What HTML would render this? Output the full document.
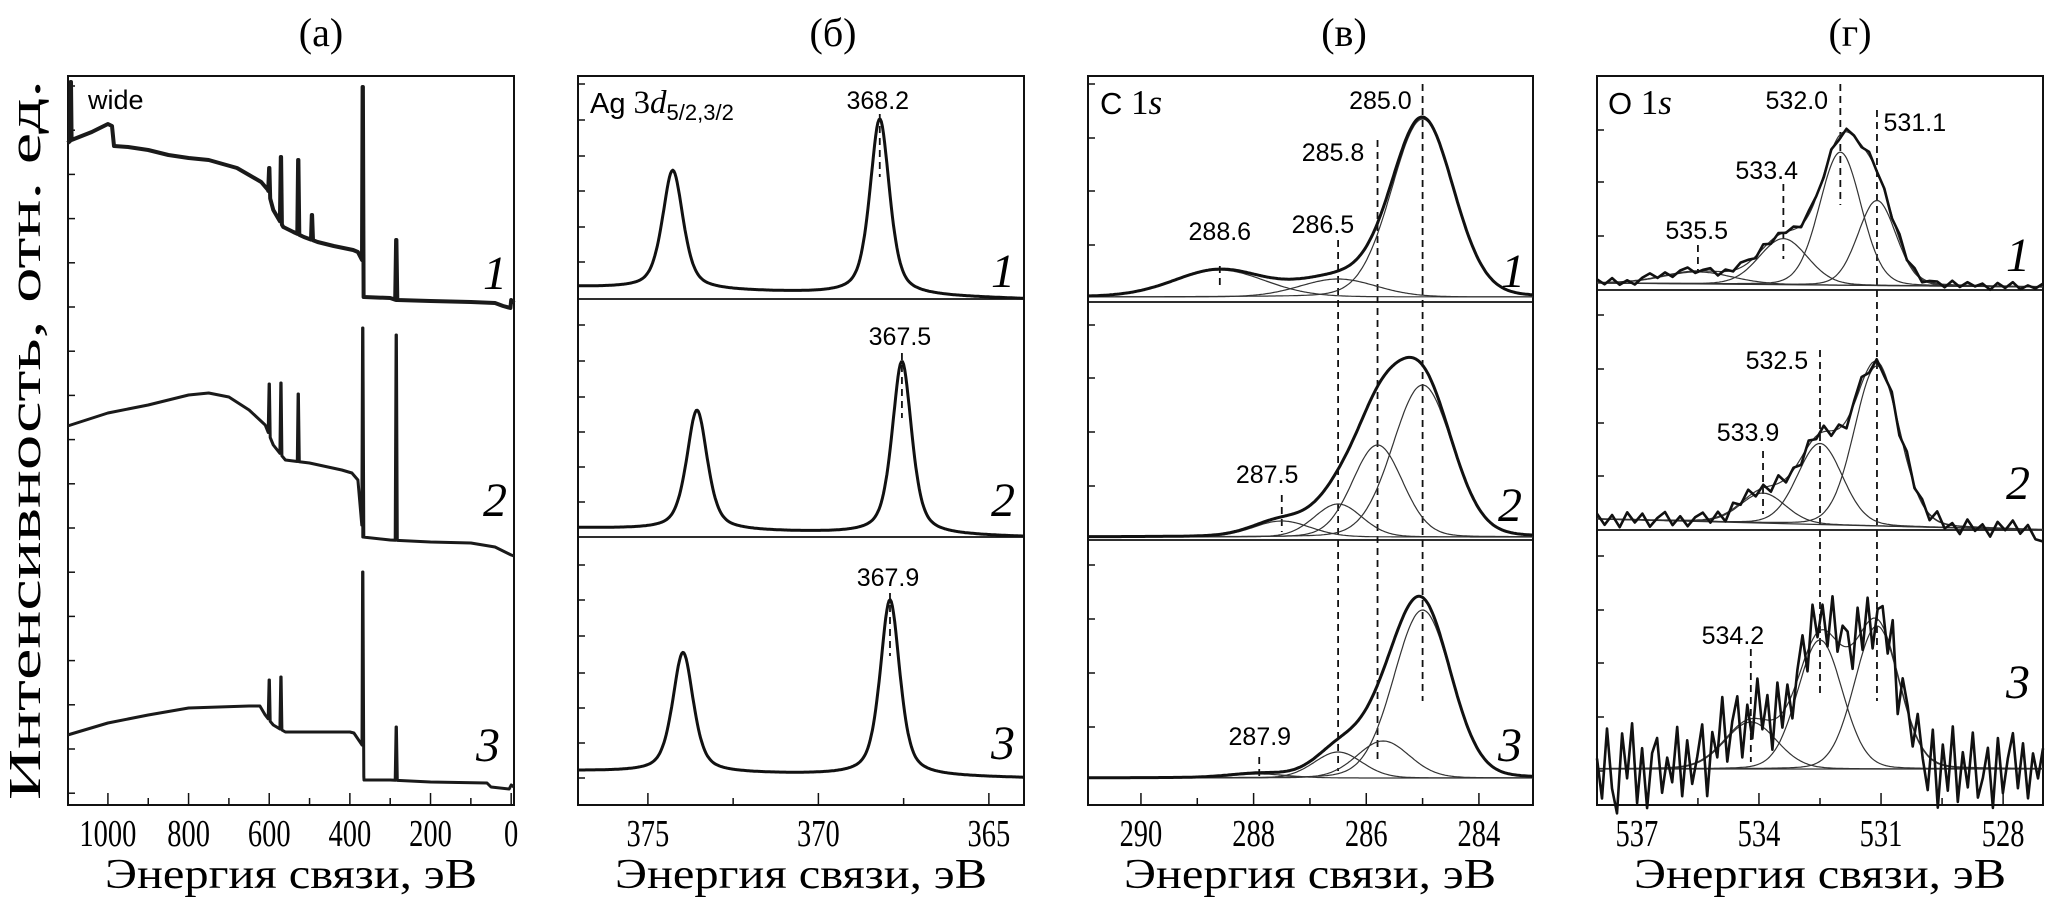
<!DOCTYPE html>
<html><head><meta charset="utf-8">
<style>
html,body{margin:0;padding:0;background:#fff;}
svg{display:block;}
.serif{font-family:"Liberation Serif","DejaVu Serif",serif;}
.sans{font-family:"Liberation Sans","DejaVu Sans",sans-serif;}
</style></head>
<body>
<svg id="chart" width="2067" height="909" viewBox="0 0 2067 909" xmlns="http://www.w3.org/2000/svg">
<rect x="0" y="0" width="2067" height="909" fill="#fff"/>
<text class="serif" x="321" y="46" font-size="40" text-anchor="middle">(a)</text>
<text class="serif" x="833" y="46" font-size="40" text-anchor="middle">(б)</text>
<text class="serif" x="1344" y="46" font-size="40" text-anchor="middle">(в)</text>
<text class="serif" x="1850" y="46" font-size="40" text-anchor="middle">(г)</text>
<text class="serif" transform="translate(40,440) rotate(-90)" font-size="46" text-anchor="middle" textLength="720" lengthAdjust="spacingAndGlyphs">Интенсивность, отн. ед.</text>
<text class="serif" x="291" y="888" font-size="42" text-anchor="middle" textLength="372" lengthAdjust="spacingAndGlyphs">Энергия связи, эВ</text>
<text class="serif" x="801" y="888" font-size="42" text-anchor="middle" textLength="372" lengthAdjust="spacingAndGlyphs">Энергия связи, эВ</text>
<text class="serif" x="1310" y="888" font-size="42" text-anchor="middle" textLength="372" lengthAdjust="spacingAndGlyphs">Энергия связи, эВ</text>
<text class="serif" x="1820" y="888" font-size="42" text-anchor="middle" textLength="372" lengthAdjust="spacingAndGlyphs">Энергия связи, эВ</text>
<text class="sans" x="88" y="109" font-size="27">wide</text>
<text x="590" y="113" font-size="29"><tspan class="sans">Ag </tspan><tspan class="serif" font-size="33">3</tspan><tspan class="serif" font-style="italic" font-size="33">d</tspan><tspan class="sans" font-size="22" dy="7">5/2,3/2</tspan></text>
<text x="1100" y="114" font-size="31"><tspan class="sans">C </tspan><tspan class="serif" font-size="35">1</tspan><tspan class="serif" font-style="italic" font-size="35">s</tspan></text>
<text x="1608" y="114" font-size="31"><tspan class="sans">O </tspan><tspan class="serif" font-size="35">1</tspan><tspan class="serif" font-style="italic" font-size="35">s</tspan></text>
<g id="plots"></g>
</svg>
<script>
// ---------- Panel (a): survey spectra ----------
const surveyE1 = [1100,1090,1040,1000,990,985,950,900,850,800,750,715,680,650,620,603,590,565,540,514,480,440,392,380,370,366,300,285,200,100,40,20,2,0,-7];
const surveyH1 = [662,665,673,681,679,659,658,655,650,647,645,641,637,630,623,615,595,578,573,568,563,559,555,553,545,508,507,505,504,503,502,499,497,505,502];
const spikesE1 = [1092,600,571,528,494,368,285];
const spikesH1 = [723,637,648,645,590,718,565];
const surveyE2 = [1100,1000,900,800,750,700,650,610,590,560,500,420,395,380,368,300,200,100,40,0,-7];
const surveyH2 = [379,392,400,410,412,408,395,380,360,345,342,335,332,325,268,265,263,262,258,250,249];
const spikesE2 = [600,571,528,368,285];
const spikesH2 = [421,422,411,477,470];
const surveyE3 = [1100,1000,900,800,725,650,623,610,590,560,400,390,370,365,300,200,60,50,5,0,-7];
const surveyH3 = [70,82,90,97,98,99,99,90,80,73,73,72,60,25,25,23,22,18,16,20,18];
const spikesE3 = [600,571,368,285];
const spikesH3 = [125,128,233,78];
const ticksA = [1000,800,600,400,200,0];

// ---------- Panel (б): Ag 3d ----------
const agBgLeft = [518,277,34];
const agBgRight = [506,268,27];
const agPeak52 = [368.2,367.55,367.9];
const agPeak32 = [374.27,373.56,373.97];
const agH52 = [176,173,176];
const agH32 = [119,120,120];
const ticksB = [375,370,365];
const agLabels = ["368.2","367.5","367.9"];
const agLabelH = [705,469,228];
const agDashTop = [691,452,212];
const agDashBot = [628,387,149];

// ---------- Panel (в): C 1s ----------
const cBg = [508,268,27];
const cCenters1 = [285.0,286.5,288.6];
const cHeights1 = [178,18,27];
const cWidths1 = [1.3,1.6,1.9];
const cCenters2 = [285.0,285.8,286.5,287.5];
const cHeights2 = [152,92,33,16];
const cWidths2 = [1.25,1.05,1.0,1.2];
const cCenters3 = [285.0,285.7,286.5,287.9];
const cHeights3 = [168,37,26,4];
const cWidths3 = [1.2,1.1,1.0,1.2];
const ticksC = [290,288,286,284];
const cLabelText = ["285.0","285.8","288.6","286.5","287.5","287.9"];
const cLabelE = [285.75,286.59,288.6,286.77,287.76,287.89];
const cLabelH = [705,653,574,581,331,69];
const cDashE = [285.0,285.8,286.5,288.6,287.5,287.9];
const cDashTop = [721,665,565,539,310,48];
const cDashBot = [104,46,34,520,273,27];

// ---------- Panel (г): O 1s ----------
const oBgLeft = [522,286,36];
const oBgRight = [518,275,36];
const oCenters1 = [535.5,533.4,532.0,531.1];
const oHeights1 = [12,46,133,85];
const oWidths1 = [2.0,1.4,1.2,1.1];
const oCenters2 = [533.9,532.5,531.1];
const oHeights2 = [30,81,160];
const oWidths2 = [1.3,1.3,1.3];
const oCenters3 = [534.2,532.5,531.1];
const oHeights3 = [47,129,143];
const oWidths3 = [1.5,1.3,1.3];
const oNoise1 = [3,-2,4,-3,1,-4,2,5,-1,3,-3,2,4,-2,1,3,-4,2,-1,5,3,-2,4,-3,2,-1,3,-2,4,1,-3,2,-4,3,1,-2,4,-1,2,-3,5,-2,3,-4,1,2,-3,4,-2,3,-1,2,-4,3,-2,4,-3,1,-2,3];
const oNoise2 = [5,-6,4,-8,7,-3,6,-7,2,8,-5,4,-6,3,7,-4,5,-8,6,-2,7,-5,3,-6,8,-4,2,-7,5,-3,6,-5,4,-8,3,7,-6,2,-4,5,-7,8,-3,4,-6,9,-5,2,-8,7,-4,3,-9,6,-2,8,-5,4,-10,-12];
const oNoise3 = [10,-30,40,-20,-45,35,-10,45,-35,20,-40,15,30,-25,10,-15,40,-30,25,-20,5,35,-40,20,-10,45,-25,10,30,-35,15,-20,40,-10,25,-30,35,-15,20,-25,10,30,-20,35,-5,25,-15,40,-10,20,15,-25,30,-20,25,-30,10,20,-15,35,-40,15,5,-20,25,-10,-35,30,-45,20,-25,40,-35,15,-20,35,-30,-10,20,-40,30,-25,10,35,-20,25,-30,15,-10,20];
const ticksD = [537,534,531,528];
const oLabelText = ["532.0","531.1","533.4","535.5","532.5","533.9","534.2"];
const oLabelE = [533.07,530.17,533.81,535.53,533.56,534.27,534.64];
const oLabelH = [705,683,635,575,445,373,170];
const oDashE = [532.0,531.1,533.4,535.5,532.5,533.9,534.2];
const oDashTop = [721,695,621,560,455,354,156];
const oDashBot = [600,104,546,532,111,291,43];

// ---------- helpers ----------
const NS = "http://www.w3.org/2000/svg";
const root = document.getElementById('plots');
function mk(tag, name, attrs, parent) {
  const el = document.createElementNS(NS, tag);
  
  
  for (const k in attrs) el.setAttribute(k, attrs[k]);
  (parent || root).appendChild(el);
  return el;
}
function lin(d0, d1, r0, r1) { return v => r0 + (v - d0) * (r1 - r0) / (d1 - d0); }
const BOTTOM = 805, TOP = 76;
const yS = lin(0, 729, BOTTOM, TOP);
function pv(x, c, h, w, eta) {
  const t = (x - c) / w;
  return h * (eta / (1 + 4 * t * t) + (1 - eta) * Math.exp(-4 * Math.LN2 * t * t));
}
function pathFrom(pts) { return pts.map((p, i) => (i ? 'L' : 'M') + p[0].toFixed(1) + ',' + p[1].toFixed(1)).join(''); }
function frame(name, x0, x1) {
  mk('rect', name + '-frame', {x: x0, y: TOP, width: x1 - x0, height: BOTTOM - TOP, fill: 'none', stroke: '#111', 'stroke-width': 2});
}
function xTicks(name, xs, d0, d1, majors, minorStep, labelSize) {
  const lo = Math.min(d0, d1), hi = Math.max(d0, d1);
  const start = Math.ceil(lo / minorStep) * minorStep;
  for (let v = start; v <= hi + 1e-9; v += minorStep) {
    const isMajor = majors.some(m => Math.abs(m - v) < 1e-6);
    const x = xs(v);
    mk('line', name + '-x-tick', {x1: x, x2: x, y1: BOTTOM, y2: BOTTOM - (isMajor ? 12 : 7), stroke: '#111', 'stroke-width': 1.5});
  }
  majors.forEach(m => {
    const t = mk('text', name + '-x-tick-label', {x: xs(m), y: 846, 'font-size': labelSize, 'text-anchor': 'middle', class: 'serif', transform: 'translate(' + xs(m) + ',0) scale(0.75,1) translate(' + (-xs(m)) + ',0)'});
    t.textContent = String(m);
  });
}
function yTicks(name, x0, ys) {
  ys.forEach(y => mk('line', name + '-y-tick', {x1: x0, x2: x0 + 7, y1: y, y2: y, stroke: '#111', 'stroke-width': 1.5}));
}
function sep(name, x0, x1, y) { mk('line', name + '-subplot-axis', {x1: x0, x2: x1, y1: y, y2: y, stroke: '#111', 'stroke-width': 1.8}); }
function curve(name, pts, w, col) { mk('path', name, {d: pathFrom(pts), fill: 'none', stroke: col || '#111', 'stroke-width': w, 'stroke-linejoin': 'round'}); }
function seriesLabel(name, x, y, txt) {
  const t = mk('text', name, {x: x, y: y + 16, 'font-size': 48, 'font-style': 'italic', 'text-anchor': 'middle', class: 'serif'});
  t.textContent = txt;
}
function peakLabel(name, x, h, txt) {
  const t = mk('text', name, {x: x, y: yS(h) + 9, 'font-size': 25, 'text-anchor': 'middle', class: 'sans'});
  t.textContent = txt;
}
function dash(name, x, hTop, hBot) {
  mk('line', name, {x1: x, x2: x, y1: yS(hTop), y2: yS(hBot), stroke: '#111', 'stroke-width': 1.8, 'stroke-dasharray': '7,5'});
}

// ---------- Panel (a) ----------
(function () {
  const xs = lin(1099, -7, 68, 514);
  frame('panel-a', 68, 514);
  const ty = []; for (let k = 0; k < 17; k++) ty.push(86 + 44.2 * k);
  yTicks('panel-a', 68, ty);
  xTicks('panel-a', xs, 1099, -7, ticksA, 100, 38);
  const sets = [[surveyE1, surveyH1, spikesE1, spikesH1], [surveyE2, surveyH2, spikesE2, spikesH2], [surveyE3, surveyH3, spikesE3, spikesH3]];
  sets.forEach((s, i) => {
    const E = s[0], H = s[1];
    const bgAt = e => { for (let j = 0; j < E.length - 1; j++) { if (e <= E[j] && e >= E[j + 1]) { const f = (E[j] - e) / (E[j] - E[j + 1]); return H[j] + f * (H[j + 1] - H[j]); } } return H[H.length - 1]; };
    let pts = E.map((e, j) => [e, H[j]]);
    s[2].forEach((e, j) => { pts.push([e + 2.5, bgAt(e + 2.5)]); pts.push([e + 0.4, s[3][j]]); pts.push([e - 0.4, s[3][j]]); pts.push([e - 2.5, bgAt(e - 2.5)]); });
    pts.sort((a, b) => b[0] - a[0]);
    curve('survey-spectrum-' + (i + 1), pts.map(p => [xs(p[0]), yS(p[1])]), i === 0 ? 4 : 3, '#1a1a1a');
  });
  seriesLabel('series-label-a-1', 495, 273, '1');
  seriesLabel('series-label-a-2', 495, 500, '2');
  seriesLabel('series-label-a-3', 488, 745, '3');
})();

// ---------- Panel (б) ----------
(function () {
  const d0 = 377.05, d1 = 363.97;
  const xs = lin(d0, d1, 578, 1024);
  frame('panel-b', 578, 1024);
  const ty = [84,120,156,191,227,262,325,361,397,432,467,502,565,600,636,673,708,743,778];
  yTicks('panel-b', 578, ty);
  sep('panel-b', 578, 1024, 299);
  sep('panel-b', 578, 1024, 537);
  xTicks('panel-b', xs, d0, d1, ticksB, 2.5, 38);
  for (let i = 0; i < 3; i++) {
    const pts = [];
    for (let k = 0; k <= 400; k++) {
      const e = d0 + (d1 - d0) * k / 400;
      const bg = agBgLeft[i] + (agBgRight[i] - agBgLeft[i]) * k / 400;
      const v = bg + pv(e, agPeak52[i], agH52[i], 0.68, 0.55) + pv(e, agPeak32[i], agH32[i], 0.72, 0.55);
      pts.push([xs(e), yS(v)]);
    }
    curve('ag3d-spectrum-' + (i + 1), pts, 3);
    dash('ag-peak-marker-' + (i + 1), xs(agPeak52[i]), agDashTop[i], agDashBot[i]);
    peakLabel('ag-peak-label-' + (i + 1), xs(agPeak52[i]) - 2, agLabelH[i], agLabels[i]);
  }
  seriesLabel('series-label-b-1', 1003, 271, '1');
  seriesLabel('series-label-b-2', 1003, 500, '2');
  seriesLabel('series-label-b-3', 1003, 743, '3');
})();

// ---------- Panel (в) ----------
(function () {
  const d0 = 290.94, d1 = 283.04;
  const xs = lin(d0, d1, 1088, 1533);
  frame('panel-v', 1088, 1533);
  yTicks('panel-v', 1088, [84,138,191,245,325,378,432,486,565,619,673,727]);
  sep('panel-v', 1088, 1533, 302);
  sep('panel-v', 1088, 1533, 540);
  xTicks('panel-v', xs, d0, d1, ticksC, 1, 38);
  const comps = [[cCenters1, cHeights1, cWidths1], [cCenters2, cHeights2, cWidths2], [cCenters3, cHeights3, cWidths3]];
  cDashE.forEach((e, j) => dash('c1s-marker-' + j, xs(e), cDashTop[j], cDashBot[j]));
  comps.forEach((c, i) => {
    const N = 300;
    c[0].forEach((cen, j) => {
      const pts = [];
      for (let k = 0; k <= N; k++) { const e = d0 + (d1 - d0) * k / N; pts.push([xs(e), yS(cBg[i] + pv(e, cen, c[1][j], c[2][j], 0.1))]); }
      curve('c1s-component-' + (i + 1) + '-' + j, pts, 1.2, '#333');
    });
    const tot = [];
    for (let k = 0; k <= N; k++) {
      const e = d0 + (d1 - d0) * k / N;
      let v = cBg[i];
      c[0].forEach((cen, j) => { v += pv(e, cen, c[1][j], c[2][j], 0.1); });
      tot.push([xs(e), yS(v)]);
    }
    curve('c1s-spectrum-' + (i + 1), tot, 3);
  });
  cLabelText.forEach((t, j) => peakLabel('c1s-peak-label-' + j, xs(cLabelE[j]), cLabelH[j], t));
  seriesLabel('series-label-v-1', 1513, 271, '1');
  seriesLabel('series-label-v-2', 1510, 505, '2');
  seriesLabel('series-label-v-3', 1510, 745, '3');
})();

// ---------- Panel (г) ----------
(function () {
  const d0 = 537.98, d1 = 527.02;
  const xs = lin(d0, d1, 1597, 2043);
  frame('panel-g', 1597, 2043);
  yTicks('panel-g', 1597, [130,182,236,315,369,423,476,556,610,663,717,771]);
  sep('panel-g', 1597, 2043, 290);
  sep('panel-g', 1597, 2043, 530);
  xTicks('panel-g', xs, d0, d1, ticksD, 1.5, 38);
  const comps = [[oCenters1, oHeights1, oWidths1, oNoise1], [oCenters2, oHeights2, oWidths2, oNoise2], [oCenters3, oHeights3, oWidths3, oNoise3]];
  oDashE.forEach((e, j) => dash('o1s-marker-' + j, xs(e), oDashTop[j], oDashBot[j]));
  comps.forEach((c, i) => {
    const N = 300;
    const bgAt = f => oBgLeft[i] + (oBgRight[i] - oBgLeft[i]) * f;
    mk('line', 'o1s-baseline-' + (i + 1), {x1: 1597, x2: 2043, y1: yS(bgAt(0)), y2: yS(bgAt(1)), stroke: '#333', 'stroke-width': 1.2});
    c[0].forEach((cen, j) => {
      const pts = [];
      for (let k = 0; k <= N; k++) { const e = d0 + (d1 - d0) * k / N; pts.push([xs(e), yS(bgAt(k / N) + pv(e, cen, c[1][j], c[2][j], 0.1))]); }
      curve('o1s-component-' + (i + 1) + '-' + j, pts, 1.2, '#333');
    });
    const env = [];
    for (let k = 0; k <= N; k++) {
      const e = d0 + (d1 - d0) * k / N;
      let v = bgAt(k / N);
      c[0].forEach((cen, j) => { v += pv(e, cen, c[1][j], c[2][j], 0.1); });
      env.push([xs(e), yS(v)]);
    }
    curve('o1s-envelope-' + (i + 1), env, 1.2, '#333');
    const noisy = [];
    const M = c[3].length;
    for (let k = 0; k < M; k++) {
      const f = k / (M - 1);
      const e = d0 + (d1 - d0) * f;
      let v = bgAt(f);
      c[0].forEach((cen, j) => { v += pv(e, cen, c[1][j], c[2][j], 0.1); });
      noisy.push([xs(e), yS(v + c[3][k])]);
    }
    curve('o1s-spectrum-' + (i + 1), noisy, 2.6);
  });
  oLabelText.forEach((t, j) => peakLabel('o1s-peak-label-' + j, xs(oLabelE[j]), oLabelH[j], t));
  seriesLabel('series-label-g-1', 2018, 255, '1');
  seriesLabel('series-label-g-2', 2018, 483, '2');
  seriesLabel('series-label-g-3', 2018, 682, '3');
})();
</script>
</body></html>
